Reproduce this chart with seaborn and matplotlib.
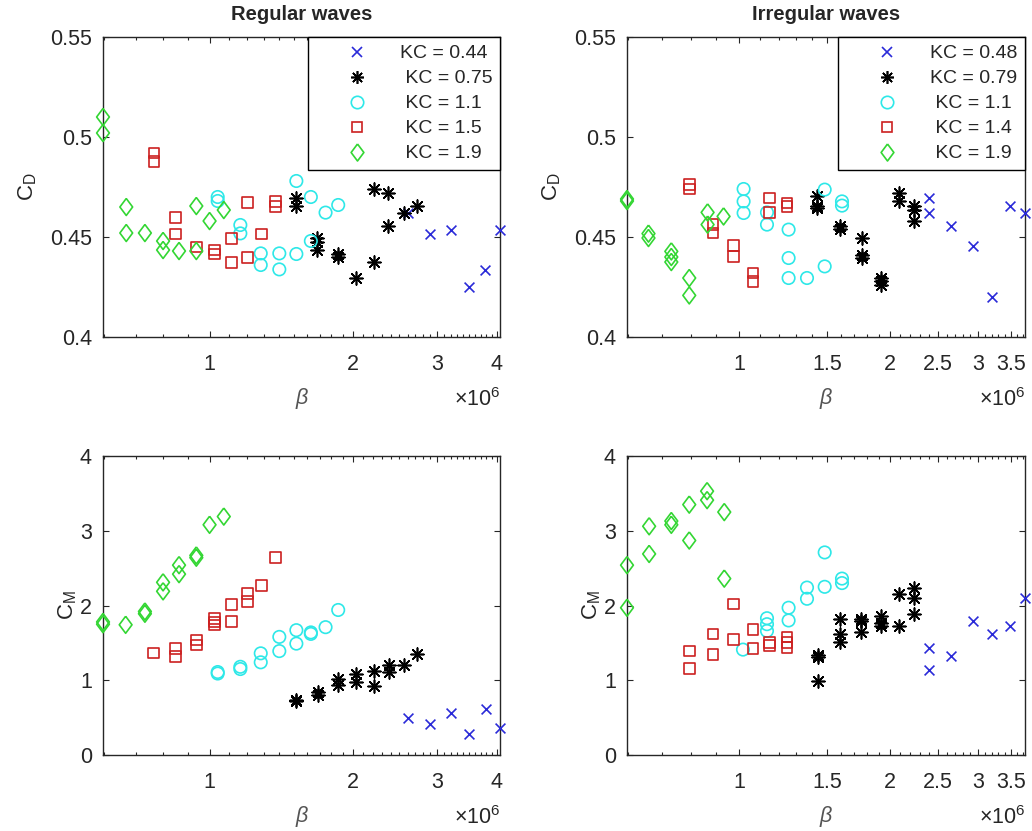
import numpy as np
import matplotlib
matplotlib.use('Agg')
import matplotlib.pyplot as plt
from matplotlib.lines import Line2D
from matplotlib.ticker import FixedLocator, FuncFormatter, NullFormatter
import seaborn as sns

# beta values are in units of 1e6

# ---------------- Regular waves ----------------
reg_labels = ['KC = 0.44', ' KC = 0.75', ' KC = 1.1', ' KC = 1.5', ' KC = 1.9']

reg_cd_beta_044 = [2.61, 2.90, 3.20, 3.49, 3.78, 4.06]
reg_cd_044 = [0.462, 0.4515, 0.4535, 0.4252, 0.4335, 0.4535]
reg_cd_beta_075 = [1.52, 1.52, 1.68, 1.68, 1.68, 1.86, 1.86, 2.03, 2.21, 2.21, 2.37, 2.37, 2.55, 2.72]
reg_cd_075 = [0.4697, 0.4655, 0.4493, 0.4477, 0.4435, 0.4415, 0.440, 0.4293, 0.4738, 0.4377, 0.4718, 0.4555, 0.4622, 0.4657]
reg_cd_beta_11 = [1.04, 1.04, 1.16, 1.16, 1.28, 1.28, 1.40, 1.40, 1.52, 1.52, 1.63, 1.63, 1.75, 1.86]
reg_cd_11 = [0.470, 0.468, 0.456, 0.4518, 0.4418, 0.436, 0.4418, 0.4338, 0.478, 0.4415, 0.470, 0.448, 0.4622, 0.466]
reg_cd_beta_15 = [0.765, 0.765, 0.849, 0.849, 0.938, 1.024, 1.024, 1.11, 1.11, 1.20, 1.20, 1.283, 1.374, 1.374]
reg_cd_15 = [0.492, 0.4877, 0.4597, 0.4515, 0.445, 0.4435, 0.4415, 0.4493, 0.4373, 0.4673, 0.4397, 0.4515, 0.4677, 0.4652]
reg_cd_beta_19 = [0.598, 0.598, 0.669, 0.669, 0.732, 0.799, 0.799, 0.863, 0.938, 0.938, 1.0, 1.071]
reg_cd_19 = [0.510, 0.502, 0.465, 0.452, 0.452, 0.448, 0.4435, 0.443, 0.4655, 0.443, 0.458, 0.4635]

reg_cm_beta_044 = [2.61, 2.90, 3.20, 3.49, 3.79, 4.06]
reg_cm_044 = [0.50, 0.42, 0.56, 0.28, 0.62, 0.36]
reg_cm_beta_075 = [1.52, 1.52, 1.685, 1.685, 1.86, 1.86, 2.03, 2.03, 2.21, 2.21, 2.38, 2.38, 2.55, 2.72]
reg_cm_075 = [0.733, 0.72, 0.84, 0.80, 1.02, 0.93, 1.08, 0.98, 1.13, 0.92, 1.20, 1.11, 1.21, 1.35]
reg_cm_beta_11 = [1.04, 1.04, 1.16, 1.16, 1.28, 1.28, 1.40, 1.40, 1.52, 1.52, 1.63, 1.63, 1.75, 1.86]
reg_cm_11 = [1.11, 1.09, 1.18, 1.15, 1.36, 1.24, 1.58, 1.39, 1.67, 1.49, 1.64, 1.62, 1.71, 1.94]
reg_cm_beta_15 = [0.762, 0.849, 0.849, 0.938, 0.938, 1.024, 1.024, 1.024, 1.11, 1.11, 1.20, 1.20, 1.283, 1.374]
reg_cm_15 = [1.364, 1.42, 1.32, 1.54, 1.47, 1.83, 1.78, 1.74, 2.01, 1.79, 2.16, 2.05, 2.27, 2.64]
reg_cm_beta_19 = [0.598, 0.598, 0.667, 0.732, 0.732, 0.799, 0.799, 0.863, 0.863, 0.938, 0.938, 1.0, 1.071]
reg_cm_19 = [1.78, 1.75, 1.742, 1.92, 1.89, 2.31, 2.19, 2.54, 2.42, 2.67, 2.64, 3.08, 3.19]

# ---------------- Irregular waves ----------------
irr_labels = ['KC = 0.48', 'KC = 0.79', ' KC = 1.1', ' KC = 1.4', ' KC = 1.9']

irr_cd_beta_048 = [2.394, 2.394, 2.657, 2.93, 3.204, 3.476, 3.73]
irr_cd_048 = [0.4695, 0.462, 0.4557, 0.4453, 0.4198, 0.4657, 0.462]
irr_cd_beta_079 = [1.431, 1.431, 1.431, 1.593, 1.593, 1.761, 1.761, 1.761, 1.925, 1.925, 1.925, 2.085, 2.085, 2.234, 2.234, 2.234]
irr_cd_079 = [0.4703, 0.4653, 0.4645, 0.4557, 0.4542, 0.4495, 0.4412, 0.4395, 0.4295, 0.4278, 0.4262, 0.472, 0.4678, 0.4653, 0.4637, 0.4578]
irr_cd_beta_11 = [1.02, 1.02, 1.02, 1.136, 1.136, 1.255, 1.255, 1.255, 1.366, 1.482, 1.482, 1.605, 1.605]
irr_cd_11 = [0.474, 0.4678, 0.462, 0.4623, 0.4562, 0.4537, 0.4395, 0.4295, 0.4295, 0.4737, 0.4353, 0.4678, 0.4657]
irr_cd_beta_14 = [0.794, 0.794, 0.886, 0.886, 0.974, 0.974, 1.065, 1.065, 1.15, 1.15, 1.246, 1.246]
irr_cd_14 = [0.4762, 0.474, 0.4562, 0.452, 0.4457, 0.4403, 0.432, 0.4278, 0.4695, 0.4623, 0.467, 0.4653]
irr_cd_beta_19 = [0.596, 0.596, 0.658, 0.658, 0.731, 0.731, 0.731, 0.794, 0.794, 0.864, 0.864, 0.930]
irr_cd_19 = [0.469, 0.468, 0.4517, 0.4495, 0.4428, 0.440, 0.4375, 0.4295, 0.4208, 0.4623, 0.4562, 0.4603]

irr_cm_beta_048 = [2.394, 2.394, 2.657, 2.93, 3.204, 3.476, 3.73]
irr_cm_048 = [1.43, 1.14, 1.32, 1.79, 1.62, 1.73, 2.10]
irr_cm_beta_079 = [1.435, 1.435, 1.435, 1.593, 1.593, 1.593, 1.755, 1.755, 1.755, 1.925, 1.925, 1.925, 2.085, 2.085, 2.234, 2.234, 2.234]
irr_cm_079 = [1.34, 1.31, 0.99, 1.82, 1.62, 1.51, 1.82, 1.79, 1.64, 1.86, 1.77, 1.73, 2.16, 1.73, 2.24, 2.10, 1.88]
irr_cm_beta_11 = [1.017, 1.136, 1.136, 1.136, 1.255, 1.255, 1.366, 1.366, 1.482, 1.482, 1.605, 1.605]
irr_cm_11 = [1.41, 1.83, 1.75, 1.66, 1.97, 1.80, 2.24, 2.09, 2.71, 2.25, 2.36, 2.30]
irr_cm_beta_14 = [0.794, 0.794, 0.886, 0.886, 0.974, 0.974, 1.065, 1.065, 1.15, 1.15, 1.246, 1.246, 1.246]
irr_cm_14 = [1.39, 1.16, 1.62, 1.34, 2.02, 1.55, 1.68, 1.42, 1.50, 1.46, 1.58, 1.51, 1.44]
irr_cm_beta_19 = [0.596, 0.596, 0.66, 0.66, 0.731, 0.731, 0.794, 0.794, 0.862, 0.862, 0.933, 0.933]
irr_cm_19 = [2.54, 1.97, 3.06, 2.69, 3.13, 3.08, 3.35, 2.87, 3.53, 3.41, 3.25, 2.36]

# axis settings
reg_xlim = (0.598, 4.06)
irr_xlim = (0.596, 3.73)
reg_xticks = [1, 2, 3, 4]
irr_xticks = [1, 1.5, 2, 2.5, 3, 3.5]
cd_ylim = (0.4, 0.55)
cd_yticks = [0.4, 0.45, 0.5, 0.55]
cm_ylim = (0, 4)
cm_yticks = [0, 1, 2, 3, 4]

# MATLAB-like marker styles
diamond = [(0, 1), (0.75, 0), (0, -1), (-0.75, 0), (0, 1)]
markers = ['x', (8, 2, 0), 'o', 's', diamond]
sizes = [50, 85, 80, 60, 150]
colors = ['#2a2ad8', '#000000', '#2ee8e8', '#cc2020', '#33d633']
filled = [False, False, True, True, True]

sns.set_style('ticks')
plt.rcParams['font.family'] = ['Liberation Sans', 'DejaVu Sans']
plt.rcParams['mathtext.fontset'] = 'custom'
plt.rcParams['mathtext.rm'] = 'Liberation Sans'
plt.rcParams['mathtext.it'] = 'Liberation Sans:italic'
plt.rcParams['mathtext.default'] = 'regular'

axcol = '#262626'
fig = plt.figure(figsize=(10.32, 8.31), dpi=100)

W, H = 1032, 831
def px_axes(left, right, top, bottom):
    return fig.add_axes([left / W, 1 - bottom / H, (right - left) / W, (bottom - top) / H])

ax_rcd = px_axes(103, 500, 37, 337)
ax_icd = px_axes(627, 1025, 37, 337)
ax_rcm = px_axes(103, 500, 456, 755)
ax_icm = px_axes(627, 1025, 456, 755)


def draw(ax, betas, vals):
    for b, v, m, s, c, f in zip(betas, vals, markers, sizes, colors, filled):
        if f:
            sns.scatterplot(x=b, y=v, ax=ax, marker=m, s=s, facecolors='none',
                            edgecolor=c, linewidth=1.2, clip_on=False, zorder=3)
        else:
            sns.scatterplot(x=b, y=v, ax=ax, marker=m, s=s, color=c,
                            linewidth=1.2, clip_on=False, zorder=3)


def style(ax, xlim, xticks, ylim, yticks, ylabel, ylabx):
    ax.set_xscale('log')
    ax.set_xlim(*xlim)
    ax.set_ylim(*ylim)
    ax.xaxis.set_major_locator(FixedLocator(xticks))
    ax.xaxis.set_major_formatter(FuncFormatter(lambda v, p: '%g' % v))
    minor = [t for t in np.round(np.arange(0.6, 4.1, 0.1), 2) if t not in xticks]
    ax.xaxis.set_minor_locator(FixedLocator(minor))
    ax.xaxis.set_minor_formatter(NullFormatter())
    ax.set_yticks(yticks)
    ax.yaxis.set_major_formatter(FuncFormatter(lambda v, p: '%g' % v))
    ax.tick_params(which='both', direction='in', top=True, right=True,
                   colors=axcol, labelsize=15.5, width=0.8)
    ax.tick_params(which='major', length=4)
    ax.tick_params(which='minor', length=2.5)
    ax.tick_params(axis='x', which='major', pad=12)
    ax.tick_params(axis='y', which='major', pad=8)
    for sp in ax.spines.values():
        sp.set_visible(True)
        sp.set_color(axcol)
        sp.set_linewidth(1.0)
    ax.set_xlabel('β', fontsize=15.5, fontstyle='italic', color='#555555')
    ax.xaxis.set_label_coords(0.5, -0.17)
    ax.set_ylabel(ylabel, fontsize=16, color=axcol)
    ax.yaxis.set_label_coords(ylabx, 0.5)
    ax.text(1.0, -0.21, r'$\times10^{6}$', transform=ax.transAxes, ha='right',
            va='center', fontsize=15.5, color=axcol)


def legend(ax, labels):
    handles = []
    for m, s, c, f in zip(markers, sizes, colors, filled):
        handles.append(Line2D([], [], linestyle='none', marker=m, markersize=np.sqrt(s),
                              markerfacecolor='none' if f else c, markeredgecolor=c,
                              markeredgewidth=1.2))
    leg = ax.legend(handles, labels, loc='upper right', bbox_to_anchor=(1, 1),
                    borderaxespad=0, fontsize=14, frameon=True, fancybox=False,
                    handlelength=4.2, handletextpad=0.1, borderpad=0.4,
                    labelspacing=0.38)
    leg.get_frame().set_edgecolor('black')
    leg.get_frame().set_linewidth(1.0)
    leg.get_frame().set_alpha(1)
    for t in leg.get_texts():
        t.set_color(axcol)


draw(ax_rcd, [reg_cd_beta_044, reg_cd_beta_075, reg_cd_beta_11, reg_cd_beta_15, reg_cd_beta_19],
     [reg_cd_044, reg_cd_075, reg_cd_11, reg_cd_15, reg_cd_19])
draw(ax_icd, [irr_cd_beta_048, irr_cd_beta_079, irr_cd_beta_11, irr_cd_beta_14, irr_cd_beta_19],
     [irr_cd_048, irr_cd_079, irr_cd_11, irr_cd_14, irr_cd_19])
draw(ax_rcm, [reg_cm_beta_044, reg_cm_beta_075, reg_cm_beta_11, reg_cm_beta_15, reg_cm_beta_19],
     [reg_cm_044, reg_cm_075, reg_cm_11, reg_cm_15, reg_cm_19])
draw(ax_icm, [irr_cm_beta_048, irr_cm_beta_079, irr_cm_beta_11, irr_cm_beta_14, irr_cm_beta_19],
     [irr_cm_048, irr_cm_079, irr_cm_11, irr_cm_14, irr_cm_19])

style(ax_rcd, reg_xlim, reg_xticks, cd_ylim, cd_yticks, r'C$_{D}$', -0.16)
style(ax_icd, irr_xlim, irr_xticks, cd_ylim, cd_yticks, r'C$_{D}$', -0.16)
style(ax_rcm, reg_xlim, reg_xticks, cm_ylim, cm_yticks, r'C$_{M}$', -0.06)
style(ax_icm, irr_xlim, irr_xticks, cm_ylim, cm_yticks, r'C$_{M}$', -0.06)

ax_rcd.set_title('Regular waves', fontsize=14.5, fontweight='bold', pad=12)
ax_icd.set_title('Irregular waves', fontsize=14.5, fontweight='bold', pad=12)

legend(ax_rcd, reg_labels)
legend(ax_icd, irr_labels)

fig.savefig('out.png', dpi=100)
